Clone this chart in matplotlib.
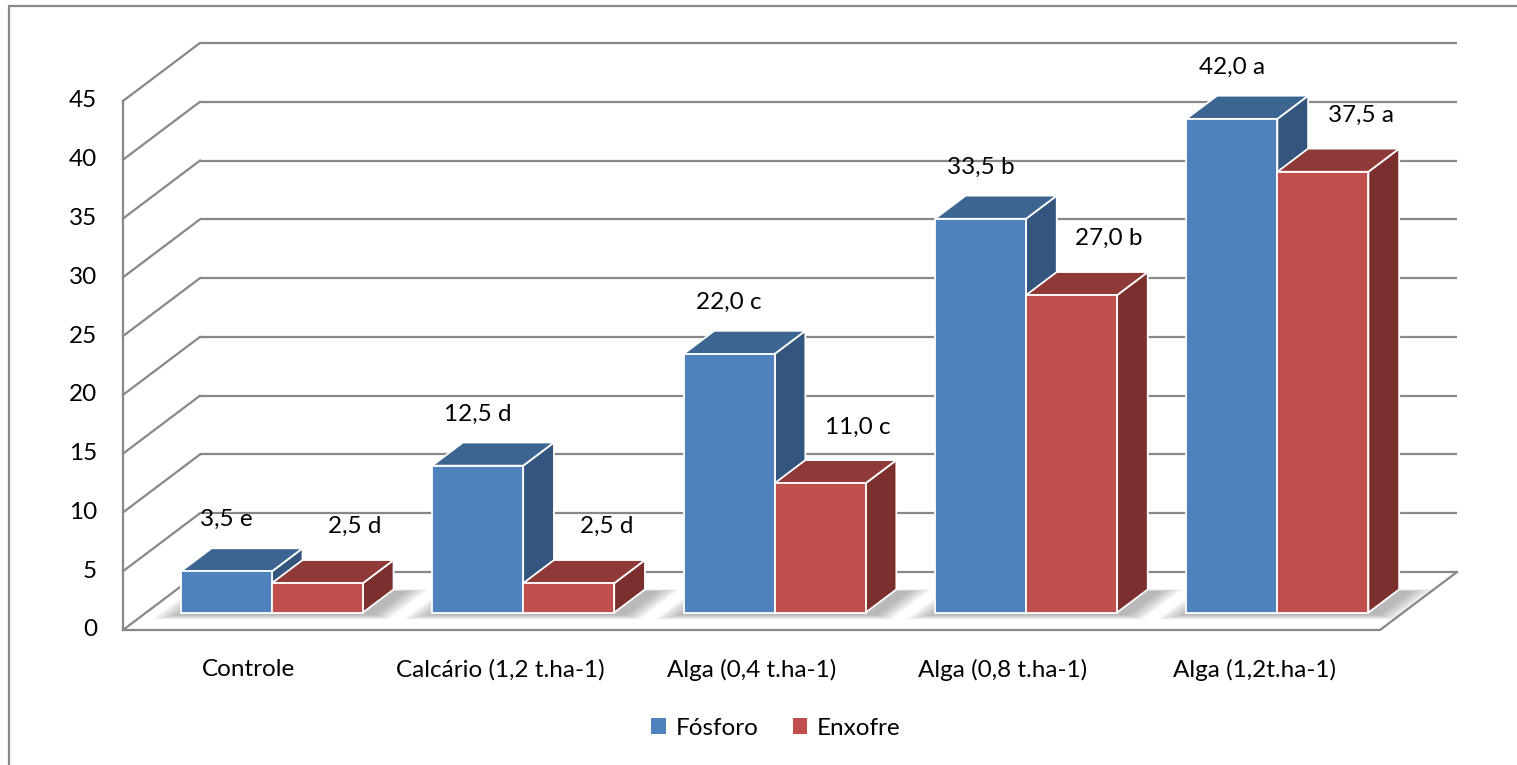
import matplotlib.pyplot as plt
from matplotlib.patches import Polygon, Rectangle, Patch

plt.rcParams['font.family'] = ['Lato', 'DejaVu Sans']

categories = ['Controle', 'Calcário (1,2 t.ha-1)', 'Alga (0,4 t.ha-1)',
              'Alga (0,8 t.ha-1)', 'Alga (1,2t.ha-1)']
fosforo = [3.5, 12.5, 22.0, 33.5, 42.0]
enxofre = [2.5, 2.5, 11.0, 27.0, 37.5]
fosforo_letters = ['e', 'd', 'c', 'b', 'a']
enxofre_letters = ['d', 'd', 'c', 'b', 'a']
yticks = [0, 5, 10, 15, 20, 25, 30, 35, 40, 45]

# colours: front, top, side
blue = ('#4f81bd', '#3c6591', '#34557e')
red = ('#c0504d', '#8f3a38', '#7c302e')
grid_col = '#888888'
FS = 17.5

# oblique projection of the depth axis (d = 0 front, d = 1 back wall)
DX = 0.306
DY = 4.93
D0, D1 = 0.3, 0.7
BAR_W = 0.362


def proj(x, v, d):
    return (x + d * DX, v + d * DY)


fig = plt.figure(figsize=(15.17, 7.65), dpi=100)
ax = fig.add_axes([0, 0, 1, 1])
ax.set_xlim(-123 / 251.4, (1517 - 123) / 251.4)
ax.set_ylim(-(765 - 630) / 11.756, 630 / 11.756)
ax.axis('off')

n = len(categories)
top = yticks[-1]

# back wall and left wall gridlines
for v in yticks:
    ax.plot(*zip(proj(0, v, 1), proj(n, v, 1)), color=grid_col, lw=1.6,
            solid_capstyle='butt', zorder=1)
    ax.plot(*zip(proj(0, v, 0), proj(0, v, 1)), color=grid_col, lw=1.6, zorder=1)
    ax.text(-0.103, v, str(v), ha='right', va='center', fontsize=FS)

# floor and front-left edge
ax.plot(*zip(proj(0, 0, 0), proj(n, 0, 0), proj(n, 0, 1)), color=grid_col,
        lw=1.6, zorder=1)
ax.plot(*zip(proj(0, 0, 0), proj(0, top, 0)), color=grid_col, lw=1.6, zorder=1)


def shadow(x0, x1):
    # soft shadow on the floor, shifted to the right of a bar group
    for k in range(8):
        g = 0.011 * k
        pts = [proj(x0 - g, 0, D0 - 0.04 - g),
               proj(x1 + 0.06 + g, 0, D0 - 0.04 - g),
               proj(x1 + 0.06 + g, 0, D1 - 0.03 + g * 0.4),
               proj(x0 - g, 0, D1 - 0.03 + g * 0.4)]
        ax.add_patch(Polygon(pts, closed=True, facecolor='#505050',
                             edgecolor='none', alpha=0.06, zorder=2))


def bar3d(x0, x1, v, cols):
    front = [proj(x0, 0, D0), proj(x1, 0, D0), proj(x1, v, D0), proj(x0, v, D0)]
    topf = [proj(x0, v, D0), proj(x1, v, D0), proj(x1, v, D1), proj(x0, v, D1)]
    side = [proj(x1, 0, D0), proj(x1, 0, D1), proj(x1, v, D1), proj(x1, v, D0)]
    for pts, c in ((side, cols[2]), (topf, cols[1]), (front, cols[0])):
        ax.add_patch(Polygon(pts, closed=True, facecolor=c, edgecolor='white',
                             lw=1.3, joinstyle='miter', zorder=3))


for i in range(n):
    c = i + 0.5
    shadow(c - BAR_W, c + BAR_W)

for i in range(n):
    c = i + 0.5
    bar3d(c - BAR_W, c, fosforo[i], blue)
    bar3d(c, c + BAR_W, enxofre[i], red)

    fx, fy = proj(c - BAR_W / 2, fosforo[i], D0)
    ax.text(fx, fy + 4.4, f'{fosforo[i]:.1f}'.replace('.', ',') + ' ' + fosforo_letters[i],
            ha='center', va='center', fontsize=FS, zorder=5)
    ex, ey = proj(c + BAR_W / 2, enxofre[i], D0)
    ax.text(ex + 0.15, ey + 4.8, f'{enxofre[i]:.1f}'.replace('.', ',') + ' ' + enxofre_letters[i],
            ha='center', va='center', fontsize=FS, zorder=5)

    ax.text(c, -3.4, categories[i], ha='center', va='center', fontsize=FS)

handles = [Patch(facecolor=blue[0], edgecolor='none'),
           Patch(facecolor=red[0], edgecolor='none')]
fig.legend(handles, ['Fósforo', 'Enxofre'], loc='center',
           bbox_to_anchor=(0.5115, 0.048), ncol=2, frameon=False, fontsize=FS,
           handlelength=0.6, handleheight=0.6, handletextpad=0.4,
           columnspacing=1.4)

# chart area border
fig.patches.append(Rectangle((9 / 1517, -0.1), 1.2, 1.1 - 6 / 765,
                             transform=fig.transFigure, fill=False,
                             edgecolor='#888888', lw=1.6))

fig.savefig('out.png', dpi=100)
